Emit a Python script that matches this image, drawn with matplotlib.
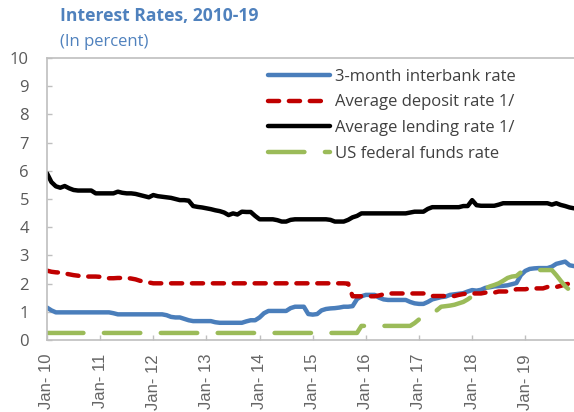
import numpy as np
import matplotlib
matplotlib.use('Agg')
import matplotlib.pyplot as plt

# monthly data, Jan-2010 .. Dec-2019
years = list(range(10, 20))
tick_labels = ['Jan- %d' % y for y in years]

interbank = [
    1.15, 1.05, 0.98, 0.98, 0.98, 0.98, 0.98, 0.98, 0.98, 0.98, 0.98, 0.98,
    0.98, 0.98, 0.98, 0.95, 0.91, 0.91, 0.91, 0.91, 0.91, 0.91, 0.91, 0.91,
    0.91, 0.91, 0.91, 0.88, 0.82, 0.80, 0.80, 0.75, 0.70, 0.67, 0.67, 0.67,
    0.67, 0.67, 0.63, 0.61, 0.61, 0.61, 0.61, 0.61, 0.61, 0.66, 0.70, 0.70,
    0.80, 0.95, 1.03, 1.03, 1.03, 1.03, 1.03, 1.13, 1.18, 1.18, 1.18, 0.92,
    0.90, 0.92, 1.05, 1.10, 1.12, 1.13, 1.15, 1.18, 1.18, 1.20, 1.45, 1.55,
    1.60, 1.60, 1.60, 1.50, 1.44, 1.42, 1.42, 1.42, 1.42, 1.42, 1.35, 1.30,
    1.28, 1.28, 1.35, 1.44, 1.48, 1.52, 1.54, 1.60, 1.62, 1.64, 1.66, 1.72,
    1.77, 1.75, 1.78, 1.85, 1.87, 1.90, 1.91, 1.92, 1.94, 1.98, 2.02, 2.30,
    2.45, 2.52, 2.54, 2.55, 2.55, 2.55, 2.60, 2.70, 2.74, 2.78, 2.65, 2.62,
]

deposit = [
    2.46, 2.42, 2.40, 2.39, 2.36, 2.33, 2.30, 2.28, 2.25, 2.25, 2.25, 2.25,
    2.24, 2.20, 2.19, 2.19, 2.20, 2.20, 2.20, 2.18, 2.15, 2.10, 2.07, 2.04,
    2.01, 2.01, 2.01, 2.01, 2.01, 2.01, 2.01, 2.01, 2.01, 2.01, 2.01, 2.01,
    2.01, 2.01, 2.01, 2.01, 2.01, 2.01, 2.01, 2.01, 2.01, 2.01, 2.01, 2.01,
    2.01, 2.01, 2.01, 2.01, 2.01, 2.01, 2.01, 2.01, 2.01, 2.01, 2.01, 2.01,
    2.01, 2.01, 2.01, 2.01, 2.01, 2.01, 2.01, 2.01, 2.00, 1.55, 1.55, 1.55,
    1.55, 1.55, 1.55, 1.58, 1.62, 1.65, 1.65, 1.65, 1.65, 1.65, 1.65, 1.65,
    1.65, 1.65, 1.60, 1.56, 1.56, 1.56, 1.56, 1.56, 1.56, 1.60, 1.63, 1.65,
    1.65, 1.65, 1.65, 1.68, 1.68, 1.68, 1.72, 1.72, 1.72, 1.75, 1.80, 1.80,
    1.80, 1.83, 1.83, 1.83, 1.83, 1.88, 1.88, 1.88, 1.92, 1.97, 2.00, 2.00,
]

lending = [
    5.91, 5.60, 5.45, 5.40, 5.46, 5.38, 5.32, 5.30, 5.30, 5.30, 5.30, 5.20,
    5.20, 5.20, 5.20, 5.20, 5.26, 5.22, 5.20, 5.20, 5.18, 5.14, 5.10, 5.06,
    5.14, 5.10, 5.08, 5.06, 5.04, 5.00, 4.96, 4.96, 4.94, 4.75, 4.72, 4.70,
    4.67, 4.64, 4.60, 4.57, 4.52, 4.43, 4.49, 4.45, 4.55, 4.54, 4.54, 4.40,
    4.28, 4.28, 4.28, 4.28, 4.25, 4.20, 4.20, 4.26, 4.28, 4.28, 4.28, 4.28,
    4.28, 4.28, 4.28, 4.28, 4.26, 4.20, 4.20, 4.20, 4.26, 4.35, 4.40, 4.49,
    4.49, 4.49, 4.49, 4.49, 4.49, 4.49, 4.49, 4.49, 4.49, 4.49, 4.52, 4.55,
    4.55, 4.55, 4.65, 4.71, 4.71, 4.71, 4.71, 4.71, 4.71, 4.71, 4.75, 4.75,
    4.96, 4.78, 4.76, 4.76, 4.76, 4.76, 4.80, 4.85, 4.85, 4.85, 4.85, 4.85,
    4.85, 4.85, 4.85, 4.85, 4.85, 4.85, 4.80, 4.85, 4.79, 4.75, 4.70, 4.67,
]

fed_funds = [0.25] * 71 + [0.50] * 12 + [
    0.60, 0.73, 0.80, 0.94, 1.00, 1.05, 1.18, 1.20, 1.22, 1.25, 1.30, 1.35,
    1.44, 1.55, 1.65, 1.75, 1.83, 1.90, 1.95, 2.01, 2.10, 2.20, 2.25, 2.27,
    2.40, 2.48, 2.48, 2.48, 2.48, 2.48, 2.48, 2.48, 2.30, 2.10, 1.91, 1.77,
    1.75,
]

months = np.arange(len(lending))

title_col = '#4F81BD'
grey = '#BFBFBF'
text_col = '#595959'

fig = plt.figure(figsize=(5.74, 4.12), dpi=100)
ax = fig.add_axes([47 / 574, 72 / 412, 1 - 47 / 574, 282 / 412])

ax.plot(months, interbank, color='#4A7EBB', lw=3.2, solid_capstyle='round',
        label='3-month interbank rate')
ax.plot(months, deposit, color='#C00000', lw=3.2, dashes=(2.5, 2.2),
        dash_capstyle='round', label='Average deposit rate 1/')
ax.plot(months, lending, color='black', lw=3.2, solid_capstyle='round',
        label='Average lending rate 1/')
ax.plot(months, fed_funds, color='#9BBB59', lw=3.2, dashes=(8.2, 4.6),
        dash_capstyle='round', label='US federal funds rate')

ax.set_xlim(0, 119)
ax.set_ylim(0, 10)
ax.set_yticks(range(0, 11))
ax.set_xticks(range(0, 120, 12))
ax.set_xticklabels(tick_labels, rotation=90, family='Liberation Sans',
                   fontsize=12, color='#666666')
for lab in ax.get_yticklabels():
    lab.set_family('Open Sans')
    lab.set_fontsize(12)
    lab.set_color(text_col)

ax.tick_params(axis='both', direction='in', length=3.5, width=1, color=grey)
ax.tick_params(axis='x', pad=10)
ax.tick_params(axis='y', pad=13)

for side in ['left', 'bottom', 'top']:
    ax.spines[side].set_color(grey)
    ax.spines[side].set_linewidth(1.2)
ax.spines['right'].set_visible(False)

leg = ax.legend(loc='upper left', bbox_to_anchor=(268 / 574, 1 - 69 / 412),
                bbox_transform=fig.transFigure, frameon=False, borderpad=0,
                borderaxespad=0, handlelength=3.7, handletextpad=0.3,
                labelspacing=0.57, prop={'family': 'Open Sans', 'size': 12})
for t in leg.get_texts():
    t.set_color('#404040')

fig.text(60 / 574, 1 - 16 / 412, 'Interest Rates, 2010-19', color=title_col,
         family='Open Sans', fontweight='bold', fontsize=12.6, va='center')
fig.text(60 / 574, 1 - 42 / 412, '(In percent)', color=title_col,
         family='Open Sans', fontsize=12, va='center')

fig.savefig('out.png', dpi=100)
